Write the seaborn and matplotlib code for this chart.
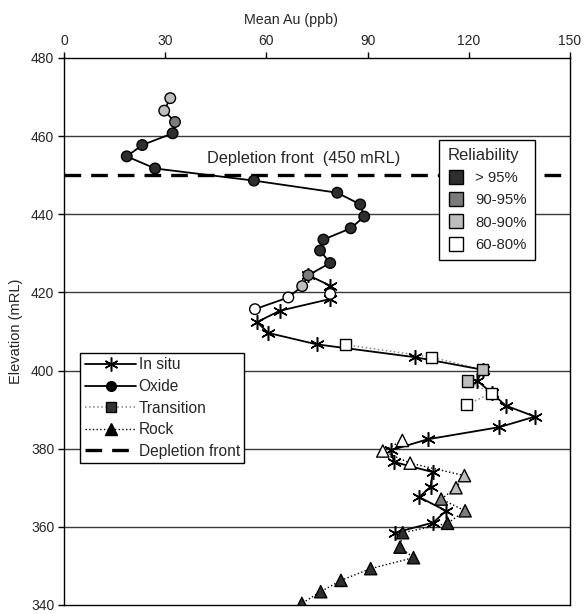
import matplotlib
matplotlib.use("Agg")
import matplotlib.pyplot as plt
from matplotlib.lines import Line2D
import pandas as pd
import seaborn as sns

# Oxide profile, top down (elevation mRL, mean Au ppb, reliability class)
oxide_elev = [469.7, 466.5, 463.6, 460.7, 457.7, 454.8, 451.7, 448.6, 445.5, 442.5,
              439.4, 436.4, 433.5, 430.7, 427.5, 424.4, 421.6, 418.7, 415.7]
oxide_au = [31.5, 29.7, 32.9, 32.2, 23.2, 18.6, 27.0, 56.3, 81.0, 87.8,
            89.0, 85.0, 76.9, 75.9, 78.9, 72.4, 70.6, 66.5, 56.6]
oxide_rel = ["80-90%", "80-90%", "90-95%"] + ["> 95%"] * 12 + ["90-95%", "80-90%", "60-80%", "60-80%"]

# Single unconnected oxide sample
oxide_lone_elev = [419.6]
oxide_lone_au = [78.9]
oxide_lone_rel = ["60-80%"]

# Transition zone
trans_elev = [406.6, 403.4, 400.2, 397.3, 394.2, 391.3]
trans_au = [83.5, 109.0, 124.1, 119.6, 126.8, 119.4]
trans_rel = ["60-80%", "60-80%", "80-90%", "80-90%", "60-80%", "60-80%"]

# Fresh rock
rock_elev = [382.1, 379.4, 376.3, 373.1, 370.0, 367.1, 364.1, 360.9,
             358.5, 354.8, 352.1, 349.3, 346.3, 343.4, 340.4]
rock_au = [100.3, 94.5, 102.6, 118.7, 116.2, 111.8, 118.9, 113.7,
           100.4, 99.6, 103.6, 90.9, 82.1, 76.1, 70.5]
rock_rel = ["60-80%"] * 3 + ["80-90%"] * 2 + ["90-95%"] * 2 + ["> 95%"] * 8

# In situ profile
insitu_elev = [424.4, 421.7, 418.3, 415.3, 412.4, 409.6, 406.7, 403.4, 400.2, 397.4,
               394.2, 391.0, 388.2, 385.5, 382.4, 379.6, 376.6, 374.0, 370.3, 367.6,
               364.1, 361.1, 358.5]
insitu_au = [72.4, 78.9, 78.9, 64.0, 57.2, 60.6, 74.9, 104.1, 124.1, 122.5,
             126.8, 131.0, 139.6, 129.0, 107.8, 96.9, 97.8, 109.3, 108.7, 105.3,
             113.2, 109.5, 98.1]

depletion_front = 450
rel_classes = ["> 95%", "90-95%", "80-90%", "60-80%"]
rel_colors = ["#2e2e2e", "#7b7b7b", "#bdbdbd", "#ffffff"]
palette = dict(zip(rel_classes, rel_colors))

sns.set_theme(style="white")
plt.rcParams["font.family"] = ["Liberation Sans", "DejaVu Sans"]
plt.rcParams["font.size"] = 10

oxide = pd.DataFrame({"au": oxide_au, "elev": oxide_elev, "rel": oxide_rel})
oxide_all = pd.concat([oxide, pd.DataFrame({"au": oxide_lone_au, "elev": oxide_lone_elev,
                                            "rel": oxide_lone_rel})])
trans = pd.DataFrame({"au": trans_au, "elev": trans_elev, "rel": trans_rel})
rock = pd.DataFrame({"au": rock_au, "elev": rock_elev, "rel": rock_rel})
insitu = pd.DataFrame({"au": insitu_au, "elev": insitu_elev})

fig = plt.figure(figsize=(5.85, 6.14), dpi=100)
ax = fig.add_axes([0.1094, 0.0147, 0.865, 0.891])

# grid and depletion front
for y in range(360, 480, 20):
    ax.axhline(y, color="#3a3a3a", lw=1.0, zorder=0)
ax.axhline(depletion_front, color="black", lw=2.4, ls=(0, (5, 3)), zorder=1)
ax.text(42.5, depletion_front + 2.3, "Depletion front  (450 mRL)", fontsize=11.8,
        ha="left", va="bottom")

# connecting lines
sns.lineplot(data=rock, x="au", y="elev", sort=False, orient="y", estimator=None,
             color="black", lw=1.0, ls=":", ax=ax, zorder=2)
sns.lineplot(data=trans, x="au", y="elev", sort=False, orient="y", estimator=None,
             color="#8a8a8a", lw=1.1, ls=":", ax=ax, zorder=2)
sns.lineplot(data=insitu, x="au", y="elev", sort=False, orient="y", estimator=None,
             color="black", lw=1.3, ax=ax, zorder=3, marker=(6, 2, 0), markersize=10.5,
             markeredgecolor="black", markeredgewidth=1.1)
sns.lineplot(data=oxide, x="au", y="elev", sort=False, orient="y", estimator=None,
             color="black", lw=1.3, ax=ax, zorder=3)

# sample markers shaded by reliability
sns.scatterplot(data=oxide_all, x="au", y="elev", hue="rel", palette=palette, marker="o",
                s=58, edgecolor="black", linewidth=1.0, legend=False, ax=ax, zorder=4)
sns.scatterplot(data=trans, x="au", y="elev", hue="rel", palette=palette, marker="s",
                s=66, edgecolor="black", linewidth=1.0, legend=False, ax=ax, zorder=4)
sns.scatterplot(data=rock, x="au", y="elev", hue="rel", palette=palette, marker="^",
                s=78, edgecolor="black", linewidth=1.0, legend=False, ax=ax, zorder=4)

ax.set_xlim(0, 150)
ax.set_ylim(340, 480)
ax.set_xticks(range(0, 151, 30))
ax.set_yticks(range(340, 481, 20))
ax.xaxis.tick_top()
ax.xaxis.set_label_position("top")
ax.set_xlabel("Mean Au (ppb)", fontsize=10.3)
ax.xaxis.set_label_coords(0.449, 1.062)
ax.set_ylabel("Elevation (mRL)", fontsize=10.5, labelpad=6)
ax.tick_params(axis="both", direction="out", length=4, width=1, color="black",
               labelsize=10, pad=3)
ax.tick_params(axis="x", top=True, bottom=False)
ax.tick_params(axis="y", left=True)
for side in ["top", "left", "right", "bottom"]:
    ax.spines[side].set_color("black")
    ax.spines[side].set_linewidth(1.0)

series_handles = [
    Line2D([], [], color="black", lw=1.3, marker=(6, 2, 0), markersize=10,
           markeredgecolor="black", markeredgewidth=1.1),
    Line2D([], [], color="black", lw=1.3, marker="o", markersize=7,
           markerfacecolor="black", markeredgecolor="black"),
    Line2D([], [], color="#8a8a8a", lw=1.1, ls=":", marker="s", markersize=7,
           markerfacecolor="#333333", markeredgecolor="black"),
    Line2D([], [], color="black", lw=1.0, ls=":", marker="^", markersize=8,
           markerfacecolor="black", markeredgecolor="black"),
    Line2D([], [], color="black", lw=2.4, ls=(0, (5, 3))),
]
series_labels = ["In situ", "Oxide", "Transition", "Rock", "Depletion front"]
leg1 = ax.legend(series_handles, series_labels, loc="lower left",
                 bbox_to_anchor=(0.032, 0.259), borderaxespad=0, frameon=True,
                 fancybox=False, edgecolor="black", framealpha=1, fontsize=11.2,
                 handlelength=3.3, handletextpad=0.15, labelspacing=0.42,
                 borderpad=0.3)
leg1.get_frame().set_linewidth(1.0)
ax.add_artist(leg1)

rel_handles = [Line2D([], [], ls="none", marker="s", markersize=9.5, markerfacecolor=c,
                      markeredgecolor="black", markeredgewidth=1.0) for c in rel_colors]
leg2 = ax.legend(rel_handles, rel_classes, title="Reliability", loc="upper right",
                 bbox_to_anchor=(0.931, 0.850), borderaxespad=0, frameon=True,
                 fancybox=False, edgecolor="black", framealpha=1, fontsize=10.7,
                 title_fontsize=12, handlelength=1.2, handletextpad=0.7,
                 labelspacing=0.55, borderpad=0.55)
leg2.get_frame().set_linewidth(1.0)
leg2._legend_box.align = "left"

fig.savefig("out.png", dpi=100)
